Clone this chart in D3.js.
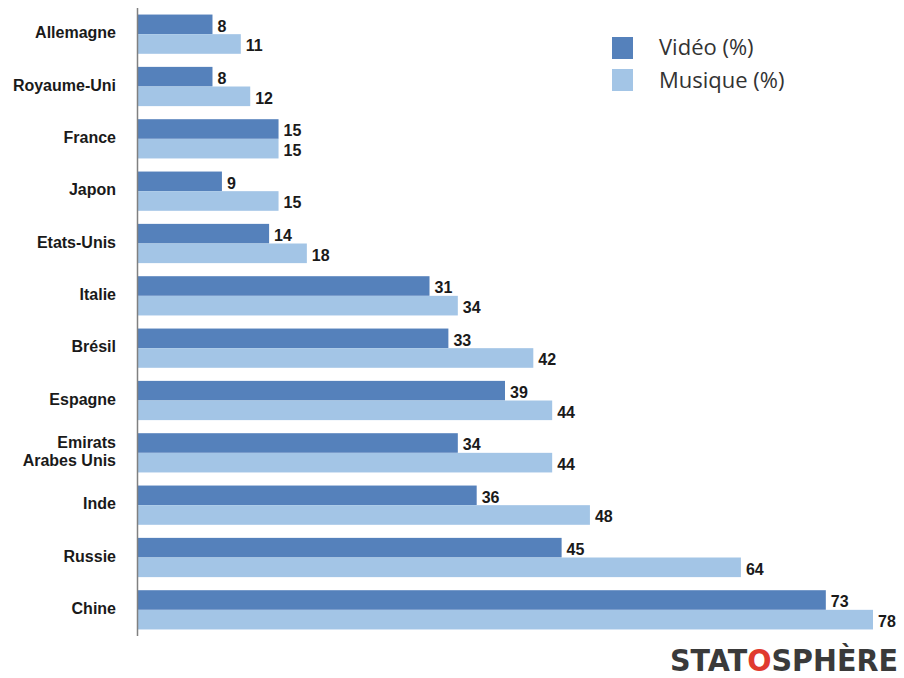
<!DOCTYPE html>
<html><head><meta charset="utf-8">
<script src="https://cdn.jsdelivr.net/npm/d3@7"></script>
<style>body{margin:0;background:#fff;} svg{display:block;}</style>
</head><body>
<svg id="chart" width="904" height="678"></svg>
<script>
const categories = ["Allemagne","Royaume-Uni","France","Japon","Etats-Unis","Italie","Brésil","Espagne","Emirats\nArabes Unis","Inde","Russie","Chine"];
const video = [8,8,15,9,14,31,33,39,34,36,45,73];
const musique = [11,12,15,15,18,34,42,44,44,48,64,78];
const seriesNames = ["Vidéo (%)","Musique (%)"];
const colors = ["#5581bb","#a3c5e6"];

const svg = d3.select("#chart");
const x = d3.scaleLinear().domain([0,78]).range([137,873]);
const y = d3.scaleBand().domain(categories).range([8,636]).paddingInner(0.25).paddingOuter(0.125);
const ySub = d3.scaleBand().domain([0,1]).range([0,y.bandwidth()]);

const data = categories.map((c,i)=>({c, vals:[video[i],musique[i]]}));

const g = svg.append("g");
data.forEach(d=>{
  d.vals.forEach((v,k)=>{
    g.append("rect")
      .attr("x",x(0)).attr("y",y(d.c)+ySub(k))
      .attr("width",x(v)-x(0)).attr("height",ySub.bandwidth())
      .attr("fill",colors[k]);
    g.append("text")
      .attr("x",x(v)+5).attr("y",y(d.c)+ySub(k)+ySub.bandwidth()/2+3)
      .attr("dominant-baseline","middle")
      .attr("font-family","Liberation Sans, Arial, sans-serif")
      .attr("font-weight","bold").attr("font-size",16).attr("fill","#1a1a1a")
      .text(v);
  });
});

// category labels
data.forEach(d=>{
  const lines = d.c.split("\n");
  const cy = y(d.c)+y.bandwidth()/2;
  const t = svg.append("text")
    .attr("text-anchor","end")
    .attr("font-family","Liberation Sans, Arial, sans-serif")
    .attr("font-weight","bold").attr("font-size",16).attr("fill","#1a1a1a");
  lines.forEach((l,i)=>{
    t.append("tspan").attr("x",116)
     .attr("y",cy + (i-(lines.length-1)/2)*18)
     .attr("dominant-baseline","middle").text(l);
  });
});

// axis line
svg.append("line").attr("x1",137.5).attr("x2",137.5).attr("y1",8).attr("y2",636)
  .attr("stroke","#808080").attr("stroke-width",1.5);

// legend
seriesNames.forEach((n,i)=>{
  svg.append("rect").attr("x",612).attr("y",37+i*32).attr("width",21).attr("height",22).attr("fill",colors[i]);
  svg.append("text").attr("x",659).attr("y",49+i*33).attr("dominant-baseline","middle")
    .attr("font-family","Open Sans, Liberation Sans, sans-serif").attr("font-size",22).attr("fill","#333")
    .text(n);
});

// logo
const logoG = svg.append("g");
const logo = logoG.append("text").attr("x",0).attr("y",0)
  .attr("font-family","DejaVu Sans, sans-serif").attr("font-weight","bold")
  .attr("font-size",30).attr("fill","#3a3a3a");
logo.append("tspan").text("STAT");
logo.append("tspan").attr("fill","#e03a2f").text("O");
logo.append("tspan").text("SPHÈRE");
const bb = logo.node().getBBox();
const sx = 228 / bb.width;
logoG.attr("transform",`translate(${670 - bb.x*sx},671) scale(${sx},1)`);
</script>
</body></html>
